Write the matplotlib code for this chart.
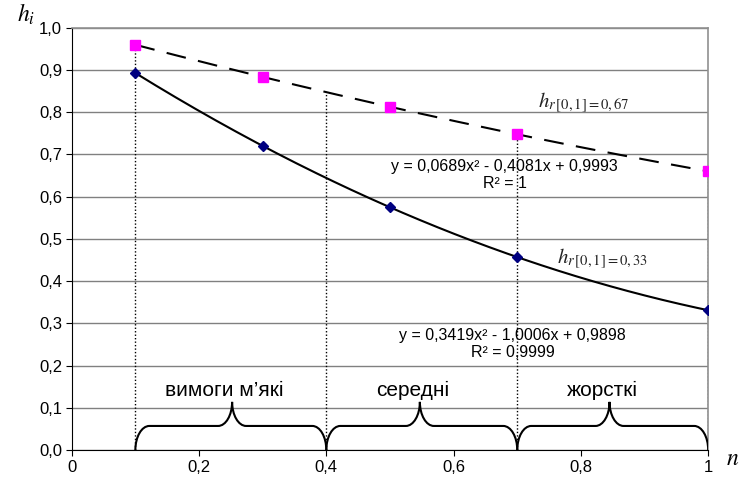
import numpy as np
import matplotlib
matplotlib.use("Agg")
import matplotlib.pyplot as plt
from matplotlib.path import Path
from matplotlib.patches import PathPatch

plt.rcParams['font.family'] = ['Liberation Sans', 'DejaVu Sans']
plt.rcParams['mathtext.fontset'] = 'stix'

# дані
n = [0.1, 0.3, 0.5, 0.7, 1.0]
h_067 = [0.96, 0.883, 0.813, 0.748, 0.66]
h_033 = [0.893, 0.72, 0.575, 0.457, 0.331]

x_ticks = [0, 0.2, 0.4, 0.6, 0.8, 1.0]
x_labels = ['0', '0,2', '0,4', '0,6', '0,8', '1']
y_ticks = [0.0, 0.1, 0.2, 0.3, 0.4, 0.5, 0.6, 0.7, 0.8, 0.9, 1.0]
y_labels = ['0,0', '0,1', '0,2', '0,3', '0,4', '0,5', '0,6', '0,7', '0,8', '0,9', '1,0']

bounds = [0.1, 0.4, 0.7, 1.0]
zones = ['вимоги м’які', 'середні', 'жорсткі']
zone_tips = [0.252, 0.547, 0.845]

eq_067 = 'y = 0,0689x² - 0,4081x + 0,9993\nR² = 1'
eq_033 = 'y = 0,3419x² - 1,0006x + 0,9898\nR² = 0,9999'

fig = plt.figure(figsize=(7.55, 4.79), dpi=100)
ax = fig.add_axes([0.095, 0.0605, 0.843, 0.8815])

# поліноміальні тренди 2-го степеня
p1 = np.polyfit(n, h_067, 2)
p2 = np.polyfit(n, h_033, 2)
xx = np.linspace(n[0], n[-1], 200)

ax.plot(xx, np.polyval(p1, xx), color='black', lw=1.5, dashes=(9.5, 6), zorder=3)
ax.plot(xx, np.polyval(p2, xx), color='black', lw=1.5, zorder=3)
ax.plot(n, h_067, 's', color='#ff00ff', ms=6.5, mec='#ff00ff', zorder=4)
ax.plot(n, h_033, 'D', color='#000080', ms=5, mec='#000080', zorder=4)

# пунктирні вертикалі до верхньої кривої
for b in bounds:
    ax.plot([b, b], [0, np.polyval(p1, b)], color='black', lw=1, ls=(0, (1, 1.5)), zorder=2)

# фігурні дужки
h, top, rx = 0.057, 0.114, 0.022
for (x0, x1), tip in zip(zip(bounds[:-1], bounds[1:]), zone_tips):
    verts = [(x0, 0),
             (x0, h * 0.55), (x0 + rx * 0.45, h), (x0 + rx, h),
             (tip - rx, h),
             (tip - rx * 0.45, h), (tip, h + (top - h) * 0.45), (tip, top),
             (tip, h + (top - h) * 0.45), (tip + rx * 0.45, h), (tip + rx, h),
             (x1 - rx, h),
             (x1 - rx * 0.45, h), (x1, h * 0.55), (x1, 0)]
    codes = [Path.MOVETO] + [Path.CURVE4] * 3 + [Path.LINETO] + [Path.CURVE4] * 6 + \
            [Path.LINETO] + [Path.CURVE4] * 3
    ax.add_patch(PathPatch(Path(verts, codes), fill=False, lw=1.5, color='black', zorder=3))

for name, tip in zip(zones, zone_tips):
    ax.text(tip - 0.012, 0.142, name, ha='center', va='center', fontsize=15)

ax.text(0.68, 0.651, eq_067, ha='center', va='center', fontsize=11.5, linespacing=1.15)
ax.text(0.693, 0.251, eq_033, ha='center', va='center', fontsize=11.5, linespacing=1.15)

ax.text(0.732, 0.822, r'$h_{r\,\mathrm{[0,1]=0,67}}$', fontsize=15, va='center', color='#222222')
ax.text(0.762, 0.452, r'$h_{r\,\mathrm{[0,1]=0,33}}$', fontsize=15, va='center', color='#222222')

fig.text(0.023, 0.955, r'$h_i$', fontsize=17)
fig.text(0.962, 0.03, r'$n$', fontsize=17)

ax.set_xlim(0, 1)
ax.set_ylim(0, 1)
ax.set_xticks(x_ticks)
ax.set_xticklabels(x_labels)
ax.set_yticks(y_ticks)
ax.set_yticklabels(y_labels)
ax.tick_params(labelsize=12, length=4, color='black')
ax.tick_params(axis='x', pad=3.5)
ax.tick_params(axis='y', pad=3)
ax.grid(axis='y', color='#808080', lw=1)
ax.set_axisbelow(True)
for s in ['top', 'right']:
    ax.spines[s].set_color('#909090')
    ax.spines[s].set_linewidth(1.2)
ax.spines['left'].set_color('black')
ax.spines['bottom'].set_color('black')

fig.savefig('out.png', dpi=100)
